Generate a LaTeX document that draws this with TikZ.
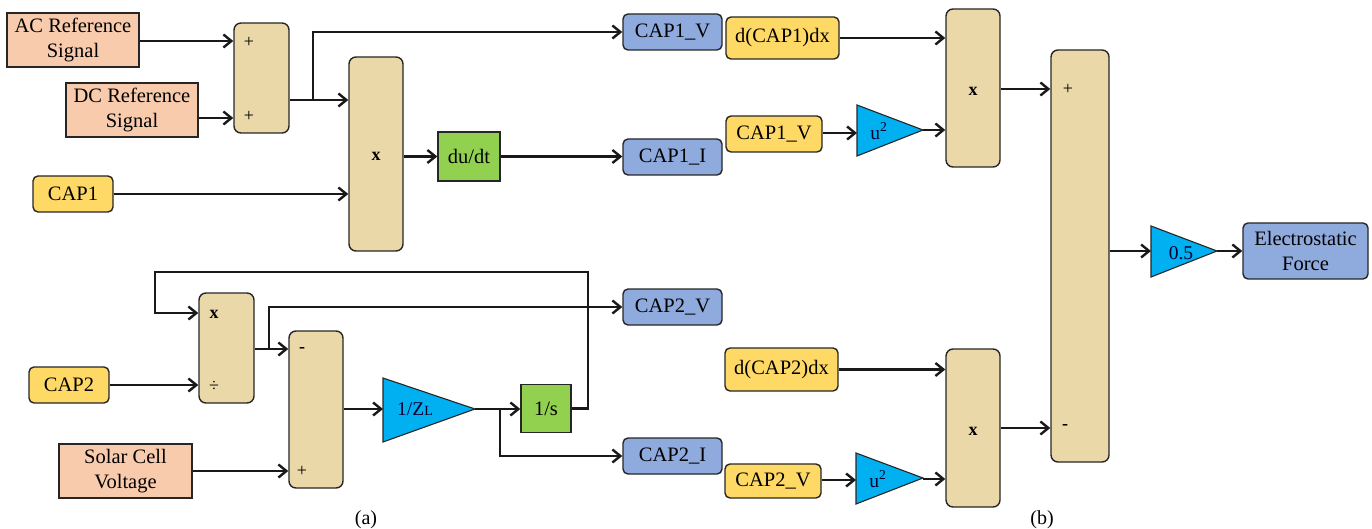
\documentclass[tikz,border=0pt]{standalone}
\usepackage{fontspec}
\setmainfont{Liberation Serif}
\usetikzlibrary{arrows.meta,calc}
\definecolor{peach}{HTML}{F8CBAD}
\definecolor{yel}{HTML}{FFD966}
\definecolor{blu}{HTML}{8FAADC}
\definecolor{grn}{HTML}{92D050}
\definecolor{cyn}{HTML}{00B0F0}
\definecolor{tan}{HTML}{EAD8A8}
\definecolor{edge}{HTML}{262626}
\begin{document}
\begin{tikzpicture}[x=1pt,y=-1pt,
  base/.style={draw=edge,line width=1.4pt,inner sep=0pt,align=center,
    font=\fontsize{20.5}{25}\selectfont},
  peachbox/.style={base,fill=peach},
  yelbox/.style={base,fill=yel,rounded corners=5pt},
  blubox/.style={base,fill=blu,rounded corners=5pt},
  grnbox/.style={base,fill=grn},
  tanbox/.style={base,fill=tan,rounded corners=7pt},
  tri/.style={draw=edge,line width=1.1pt,fill=cyn},
  sym/.style={inner sep=0pt,font=\fontsize{18}{18}\selectfont},
  bsym/.style={inner sep=0pt,font=\fontsize{18}{18}\selectfont\bfseries},
  lbl/.style={inner sep=0pt,font=\fontsize{19.5}{20}\selectfont,text=black!80!blue},
  arr/.style={line width=2.4pt,draw=black!90,-{Straight Barb[length=8pt,width=13pt,line width=2.4pt]}},
  ln/.style={line width=2.4pt,draw=black!90}]
\useasboundingbox (0,0) rectangle (1372,529);

% ---------- (a) upper ----------
\node[peachbox,minimum width=132,minimum height=54] (ac) at (73,40) {AC Reference\\Signal};
\node[peachbox,minimum width=132,minimum height=54] (dc) at (132,110) {DC Reference\\Signal};
\node[tanbox,minimum width=55,minimum height=110] (sum1) at (261.5,78) {};
\node[sym] (s1a) at (249,42) {+};
\node[sym] (s1b) at (249,116) {+};
\node[tanbox,minimum width=54,minimum height=194] (mult1) at (376,154) {};
\node[bsym] (m1x) at (376,156) {x};
\node[yelbox,minimum width=80,minimum height=36] (cap1) at (73,194) {CAP1};
\node[grnbox,minimum width=62,minimum height=49] (dudt) at (469,156.5) {du/dt};
\node[blubox,minimum width=99,minimum height=36] (cap1v) at (672.5,32) {CAP1\_V};
\node[blubox,minimum width=99,minimum height=36] (cap1i) at (672.5,157) {CAP1\_I};

\draw[arr] ([yshift=-1pt]ac.east) -- ([yshift=-1pt]ac.east -| sum1.west);
\draw[arr] ([yshift=-8pt]dc.east) -- ([yshift=-8pt]dc.east -| sum1.west);
\coordinate (j1) at (313,100);
\draw[arr] ([yshift=-22pt]sum1.east) -- (j1) -- ([yshift=-22pt]sum1.east -| mult1.west);
\draw[arr] (j1) |- (cap1v.west);
\draw[arr] (cap1.east) -- (cap1.east -| mult1.west);
\draw[arr] (mult1.east |- dudt.west) -- (dudt.west);
\draw[arr] (dudt.east) -- (dudt.east -| cap1i.west);

% ---------- (a) lower ----------
\node[tanbox,minimum width=55,minimum height=110] (div) at (226.5,348) {};
\node[bsym] (dvx) at (214,314) {x};
\node[sym] (dvd) at (214,386) {÷};
\node[yelbox,minimum width=80,minimum height=36] (cap2) at (69,385) {CAP2};
\node[tanbox,minimum width=54,minimum height=157] (sum3) at (316,409.5) {};
\node[bsym] (s3a) at (302,350) {-};
\node[sym] (s3b) at (302,471) {+};
\node[peachbox,minimum width=133,minimum height=54] (solar) at (125.5,471) {Solar Cell\\Voltage};
\coordinate (zlb) at (383,409);
\coordinate (zlt) at (475,409);
\draw[tri] (383,378) -- (zlt) -- (383,442) -- cycle;
\node[lbl] (zl) at (415,409) {1/Z{\fontsize{14}{14}\selectfont L}};
\node[grnbox,minimum width=50,minimum height=48] (ones) at (546,408.5) {1/s};
\node[blubox,minimum width=99,minimum height=36] (cap2v) at (672.5,307) {CAP2\_V};
\node[blubox,minimum width=99,minimum height=36] (cap2i) at (672.5,456) {CAP2\_I};

\coordinate (f1) at (588,272);
\coordinate (f2) at (155,272);
\draw[arr] (ones.east) -| (f1) -- (f2) |- ([yshift=35pt]div.west);
\draw[arr] (cap2.east) -- (cap2.east -| div.west);
\coordinate (j2) at (269,349);
\draw[arr] ([yshift=-1pt]div.east) -- (j2) -- (j2 -| sum3.west);
\draw[arr] (j2) |- (cap2v.west);
\draw[arr] (solar.east) -- (solar.east -| sum3.west);
\draw[arr] (sum3.east |- zlb) -- (zlb);
\coordinate (j3) at (500,409);
\draw[arr] (zlt) -- (zlt -| ones.west);
\draw[arr] (j3) |- (cap2i.west);

\node[inner sep=0pt,font=\fontsize{20}{20}\selectfont] (capa) at (366,520) {(a)};

% ---------- (b) ----------
\node[yelbox,minimum width=113,minimum height=42] (dcap1) at (782.5,38) {d(CAP1)dx};
\node[yelbox,minimum width=96,minimum height=36] (cap1vy) at (774,134) {CAP1\_V};
\coordinate (uab) at (857,133);
\coordinate (uat) at (923,130);
\draw[tri] (857,105) -- (uat) -- (857,156) -- cycle;
\node[lbl] (ua) at (879,131) {u\textsuperscript{2}};
\node[tanbox,minimum width=54,minimum height=158] (mult2) at (973,88) {};
\node[bsym] (m2x) at (973,91) {x};

\node[yelbox,minimum width=113,minimum height=43] (dcap2) at (781.5,369.5) {d(CAP2)dx};
\node[yelbox,minimum width=96,minimum height=34] (cap2vy) at (773,481) {CAP2\_V};
\coordinate (ubb) at (856,480);
\coordinate (ubt) at (923,478);
\draw[tri] (856,453) -- (ubt) -- (856,504) -- cycle;
\node[lbl] (ub) at (878,479) {u\textsuperscript{2}};
\node[tanbox,minimum width=54,minimum height=158] (mult3) at (973,428) {};
\node[bsym] (m3x) at (973,431) {x};

\node[tanbox,minimum width=58,minimum height=412] (sum2) at (1080,256) {};
\node[sym] (s2a) at (1068,89) {+};
\node[bsym] (s2b) at (1065,427) {-};

\coordinate (hb) at (1151,251);
\coordinate (ht) at (1217,251);
\draw[tri] (1151,226) -- (ht) -- (1151,277) -- cycle;
\node[lbl] (half) at (1181,253) {0.5};
\node[blubox,minimum width=125,minimum height=56] (ef) at (1305.5,251) {Electrostatic\\Force};

\draw[arr] (dcap1.east) -- (dcap1.east -| mult2.west);
\draw[arr] (cap1vy.east |- uab) -- (uab);
\draw[arr] (uat) -- (uat -| mult2.west);
\draw[arr] ([yshift=-1pt]mult2.east) -- ([yshift=-1pt]mult2.east -| sum2.west);
\draw[arr] (dcap2.east) -- (dcap2.east -| mult3.west);
\draw[arr] (cap2vy.east |- ubb) -- (ubb);
\draw[arr] ([yshift=-1pt]ubt) -- ([yshift=-1pt]ubt -| mult3.west);
\draw[arr] (mult3.east) -- (mult3.east -| sum2.west);
\draw[arr] (sum2.east |- hb) -- (hb);
\draw[arr] (ht) -- (ef.west);

\node[inner sep=0pt,font=\fontsize{20}{20}\selectfont] (capb) at (1042,520) {(b)};
\end{tikzpicture}
\end{document}
